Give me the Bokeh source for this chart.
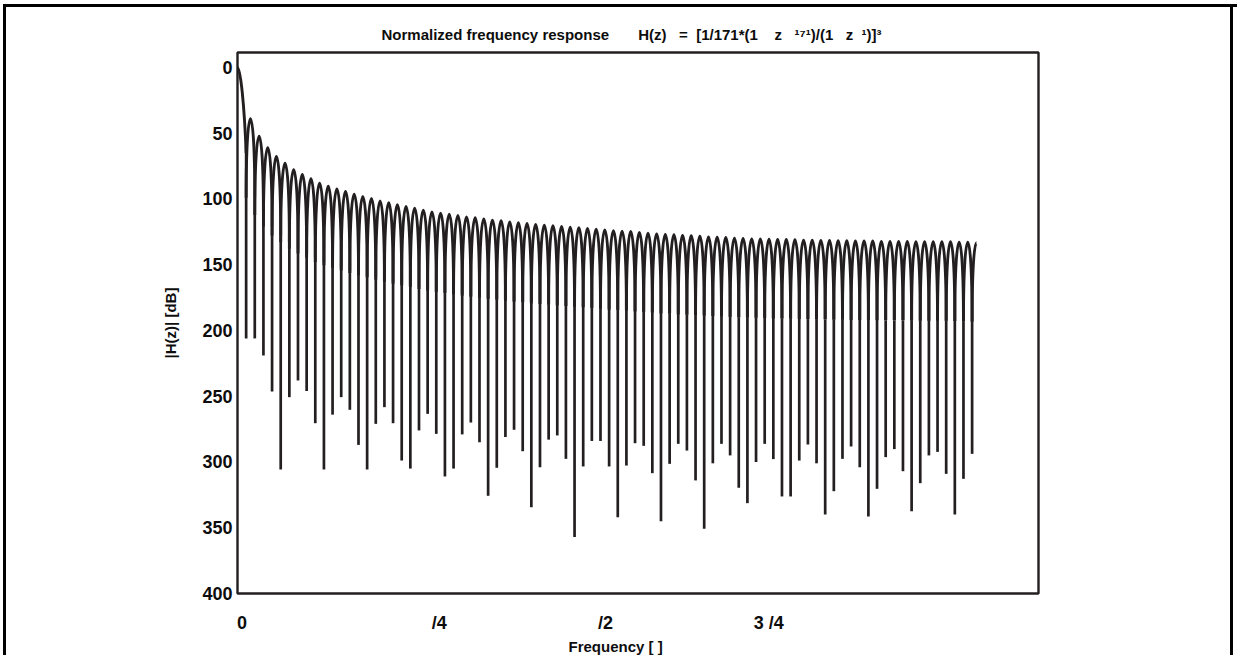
import numpy as np
from bokeh.plotting import figure
from bokeh.models import Range1d, FixedTicker, Title, ColumnDataSource
from bokeh.embed import file_html
from bokeh.resources import INLINE

# ---------------- data ----------------
N_TAPS = 171  # length of the moving-average section (nulls every 2/171 * pi)

# peak level of each lobe in dB: main lobe, side lobes 1..84, final half lobe (85) ending at pi
LOBE_PEAK_DB = [
    0.0,
    -39.0, -52.2, -61.0, -67.7, -72.8, -77.8, -81.4, -84.6, -88.0, -90.3,
    -92.3, -94.3, -96.3, -98.1, -99.6, -101.4, -102.9, -104.4, -105.7, -107.0,
    -108.5, -109.8, -110.8, -111.5, -112.5, -113.6, -114.3, -115.1, -116.1, -116.6,
    -117.4, -118.1, -118.6, -119.4, -119.9, -120.4, -120.9, -121.4, -121.9, -122.4,
    -122.9, -123.5, -124.2, -124.4, -124.7, -125.5, -126.0, -126.5, -127.0, -127.2,
    -127.8, -128.0, -128.3, -128.8, -129.0, -129.3, -129.8, -130.0, -130.3, -130.3,
    -130.5, -130.8, -130.8, -131.0, -131.3, -131.3, -131.5, -131.5, -131.8, -131.8,
    -132.0, -132.0, -132.0, -132.3, -132.3, -132.3, -132.3, -132.5, -132.5, -132.5,
    -132.5, -132.5, -132.8, -132.8, -133.3,
]

# depth reached by the plotted curve at each of the 85 nulls (dB)
NULL_DEPTH_DB = [
    -206.0, -206.0, -219.0, -246.4, -305.7, -250.7, -238.0, -246.0, -270.5, -305.7,
    -264.0, -250.7, -260.3, -287.0, -305.7, -271.0, -258.3, -270.5, -298.9, -305.0,
    -276.0, -263.4, -278.6, -311.0, -305.0, -279.0, -270.0, -285.0, -325.7, -304.4,
    -281.0, -275.5, -291.8, -334.4, -304.0, -283.0, -279.8, -297.6, -357.0, -303.4,
    -284.0, -284.0, -303.4, -342.0, -302.7, -285.7, -287.7, -308.5, -345.0, -301.4,
    -286.2, -291.3, -314.0, -350.8, -301.0, -286.2, -295.0, -319.6, -331.3, -300.0,
    -286.2, -297.8, -326.2, -326.2, -298.9, -286.7, -301.0, -340.0, -322.2, -297.6,
    -288.2, -304.0, -341.4, -320.4, -296.3, -290.2, -307.0, -337.4, -316.1, -295.0,
    -292.3, -309.0, -340.0, -312.8, -293.8,
]

XTICK_POS = [0.006, 0.273, 0.498, 0.719]          # in units of pi, where labels sit
XTICK_LABELS = ["0", "/4", "/2", "3 /4"]
YTICK_VALUES = [0, -50, -100, -150, -200, -250, -300, -350, -400]
YTICK_LABELS = ["0", "50", "100", "150", "200", "250", "300", "350", "400"]

NB = "\u00a0"
TITLE = ("Normalized frequency response" + NB * 7 +
         "H(z)" + NB * 3 + "=" + NB * 2 + "[1/171*(1" + NB * 4 + "z" + NB * 3 +
         "\u00b9\u2077\u00b9" + ")/(1" + NB * 3 + "z" + NB * 2 + "\u00b9" + ")]" + "\u00b3")
X_LABEL = "Frequency [" + NB + "]"
Y_LABEL = "|H(z)| [dB]"

# ---------------- styling ----------------
INK = "#231f20"
TXT = "#0d0d0d"
FONT = "Liberation Sans"
W, H = 1237, 655
FRAME_L, FRAME_T, FRAME_R, FRAME_B = 237, 52, 1038, 593

p = figure(width=W, height=H, output_backend="svg", toolbar_location=None,
           x_range=Range1d(0, 1.084), y_range=Range1d(-400, 11.4),
           min_border_left=FRAME_L, min_border_right=W - FRAME_R,
           min_border_top=FRAME_T, min_border_bottom=H - FRAME_B,
           title=TITLE,
           styles={"box-shadow": "inset 3px 4px 0 0 #ffffff, inset 6px 7px 0 0 #000000, "
                                 "inset -4px 0 0 0 #ffffff, inset -7px 0 0 0 #000000"})
p.background_fill_color = "white"
p.border_fill_color = None
p.outline_line_color = INK
p.outline_line_width = 2.4
p.outline_line_alpha = 1.0
p.xgrid.visible = False
p.ygrid.visible = False

p.title.align = "left"
p.title.offset = 144
p.title.standoff = 20
p.title.text_font = FONT
p.title.text_font_style = "bold"
p.title.text_font_size = "15px"
p.title.text_color = TXT

for ax in (p.xaxis[0], p.yaxis[0]):
    ax.axis_line_color = None
    ax.major_tick_line_color = None
    ax.minor_tick_line_color = None
    ax.major_tick_out = 0
    ax.major_tick_in = 0
    ax.major_label_text_font = FONT
    ax.major_label_text_font_style = "bold"
    ax.major_label_text_color = TXT
    ax.major_label_text_font_size = "18px"

p.xaxis[0].ticker = FixedTicker(ticks=XTICK_POS)
p.xaxis[0].major_label_overrides = {float(v): t for v, t in zip(XTICK_POS, XTICK_LABELS)}
p.xaxis[0].major_label_standoff = 19
p.yaxis[0].ticker = FixedTicker(ticks=YTICK_VALUES)
p.yaxis[0].major_label_overrides = {float(v): t for v, t in zip(YTICK_VALUES, YTICK_LABELS)}
p.yaxis[0].major_label_standoff = 5
p.yaxis[0].axis_label = Y_LABEL
p.yaxis[0].axis_label_standoff = 20
p.yaxis[0].axis_label_text_font = FONT
p.yaxis[0].axis_label_text_font_style = "bold"
p.yaxis[0].axis_label_text_font_size = "15px"
p.yaxis[0].axis_label_text_color = TXT

p.add_layout(Title(text=X_LABEL, align="left", offset=331, standoff=1,
                   text_font=FONT, text_font_style="bold", text_font_size="15px",
                   text_color=TXT), "below")

# ---------------- curve: lobes as bezier arches + null spikes ----------------
n_nulls = len(NULL_DEPTH_DB)
null_x = [2.0 * k / N_TAPS for k in range(1, n_nulls + 1)]
half = 1.0 / N_TAPS

arch = dict(x0=[], y0=[], x1=[], y1=[], cx0=[], cy0=[], cx1=[], cy1=[])
def add_arch(x0, y0, x1, y1, cx0, cy0, cx1, cy1):
    for k, v in zip(("x0", "y0", "x1", "y1", "cx0", "cy0", "cx1", "cy1"),
                    (x0, y0, x1, y1, cx0, cy0, cx1, cy1)):
        arch[k].append(v)

# main lobe (from 0 dB at DC down into the first null)
P0 = LOBE_PEAK_DB[0]
xa = null_x[0]
add_arch(0.0, P0, xa, P0 - 65, 0.35 * xa, P0, 0.8 * xa, P0 - 30)
# full side lobes between consecutive nulls
for k in range(1, n_nulls):
    P = LOBE_PEAK_DB[k]
    a, b = null_x[k - 1], null_x[k]
    add_arch(a, P - 60, b, P - 60, a, P + 20, b, P + 20)
# final half lobe from the last null up to pi
P = LOBE_PEAK_DB[n_nulls]
a = null_x[-1]
add_arch(a, P - 60, a + half, P, a, P - 20, a + half / 2, P)

p.bezier(x0="x0", y0="y0", x1="x1", y1="y1", cx0="cx0", cy0="cy0", cx1="cx1", cy1="cy1",
         source=ColumnDataSource(arch), line_color=INK, line_width=2.9)

spk_top = [max(LOBE_PEAK_DB[k], LOBE_PEAK_DB[k + 1]) - 60 for k in range(n_nulls)]
p.segment(x0=null_x, y0=spk_top, x1=null_x, y1=NULL_DEPTH_DB, line_color=INK, line_width=2.7)

open("out.html", "w").write(file_html(p, INLINE))
